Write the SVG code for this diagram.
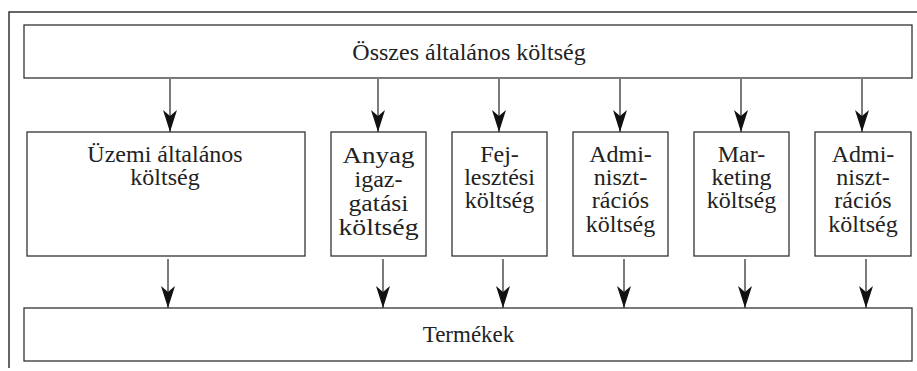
<svg xmlns="http://www.w3.org/2000/svg" width="917" height="371" viewBox="0 0 917 371">
<style>
.box{fill:#fff;stroke:#333;stroke-width:1.3}
.frame{fill:none;stroke:#333;stroke-width:1.5}
.con{stroke:#333;stroke-width:1.3;fill:none;marker-end:url(#ah)}
</style>
<defs>
<marker id="ah" markerUnits="userSpaceOnUse" viewBox="-23 -8 24 16" markerWidth="24" markerHeight="16" refX="0" refY="0" orient="auto">
<path d="M0,0 L-22,-7 L-16,0 L-22,7 Z" fill="#111"/>
</marker>
</defs>
<path class="frame" d="M917,12 H9 V368"/>
<g font-family="'Liberation Serif', 'Times New Roman', serif" font-size="24" fill="#222" text-anchor="middle">
<g id="osszes"><rect class="box" x="24" y="25" width="888" height="53"/><text x="469" y="60">Összes általános költség</text></g>
<g id="uzemi"><rect class="box" x="27" y="132" width="278" height="124"/><text x="165" y="162">Üzemi általános</text><text x="165" y="185">költség</text></g>
<g id="anyag"><rect class="box" x="331" y="132" width="95" height="124"/><text x="378.5" y="163" textLength="72" lengthAdjust="spacingAndGlyphs">Anyag</text><text x="378.5" y="187">igaz-</text><text x="378.5" y="211" textLength="60" lengthAdjust="spacingAndGlyphs">gatási</text><text x="378.5" y="235" textLength="80" lengthAdjust="spacingAndGlyphs">költség</text></g>
<g id="fejl"><rect class="box" x="452" y="132" width="95" height="124"/><text x="499.5" y="162">Fej-</text><text x="499.5" y="185">lesztési</text><text x="499.5" y="208">költség</text></g>
<g id="admin1"><rect class="box" x="573" y="132" width="95" height="124"/><text x="620.5" y="162">Admi-</text><text x="620.5" y="185">niszt-</text><text x="620.5" y="208">rációs</text><text x="620.5" y="232">költség</text></g>
<g id="mark"><rect class="box" x="694" y="132" width="95" height="124"/><text x="741.5" y="162">Mar-</text><text x="741.5" y="185">keting</text><text x="741.5" y="208">költség</text></g>
<g id="admin2"><rect class="box" x="815" y="132" width="96" height="124"/><text x="863" y="162">Admi-</text><text x="863" y="185">niszt-</text><text x="863" y="208">rációs</text><text x="863" y="232">költség</text></g>
<g id="termekek"><rect class="box" x="24" y="308" width="888" height="53"/><text x="468.5" y="342" font-size="23">Termékek</text></g>
</g>
<g id="connectors">
<line class="con" x1="170" y1="79" x2="170" y2="132"/>
<line class="con" x1="378" y1="79" x2="378" y2="132"/>
<line class="con" x1="499" y1="79" x2="499" y2="132"/>
<line class="con" x1="620" y1="79" x2="620" y2="132"/>
<line class="con" x1="741" y1="79" x2="741" y2="132"/>
<line class="con" x1="862" y1="79" x2="862" y2="132"/>
<line class="con" x1="168" y1="259" x2="168" y2="308"/>
<line class="con" x1="383" y1="259" x2="383" y2="308"/>
<line class="con" x1="503" y1="259" x2="503" y2="308"/>
<line class="con" x1="624" y1="259" x2="624" y2="308"/>
<line class="con" x1="745" y1="259" x2="745" y2="308"/>
<line class="con" x1="866" y1="259" x2="866" y2="308"/>
</g>
</svg>
